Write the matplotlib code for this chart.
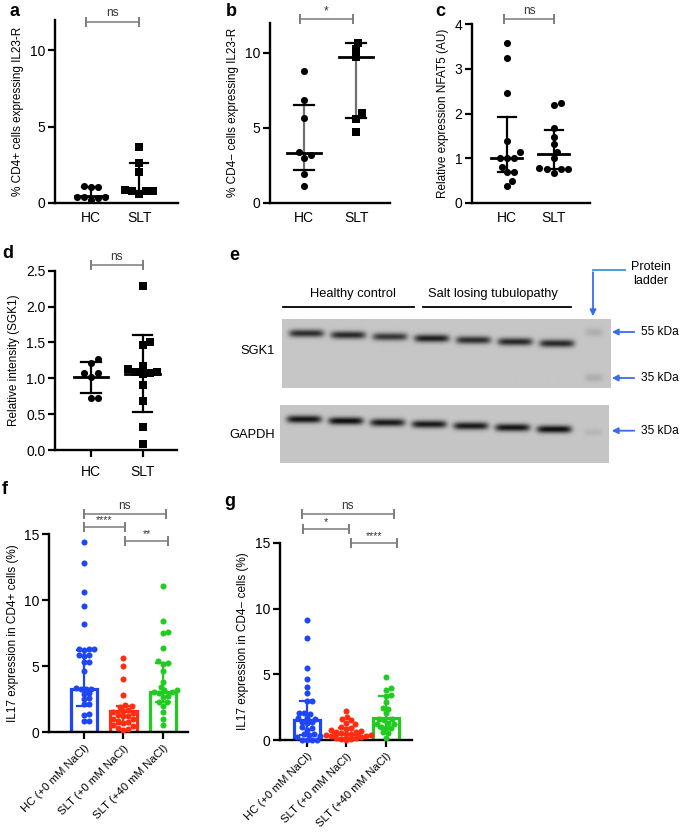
import numpy as np
import matplotlib.pyplot as plt

plt.rcParams['font.family'] = ['Liberation Sans', 'DejaVu Sans']

# ----------------------
# Data
# ----------------------
pair_labels = ['HC', 'SLT']
salt_labels = ['HC (+0 mM NaCl)', 'SLT (+0 mM NaCl)', 'SLT (+40 mM NaCl)']

# a: % CD4+ cells expressing IL23-R
a_hc = [1.1, 1.07, 1.05, 0.4, 0.38, 0.37, 0.35, 0.18]
a_slt = [3.7, 2.6, 2.0, 0.82, 0.8, 0.8, 0.78, 0.62]
a_med, a_lo, a_hi = [0.48, 0.8], [0.37, 0.78], [1.05, 2.6]

# b: % CD4- cells expressing IL23-R
b_hc = [8.78, 6.84, 5.69, 3.4, 3.18, 3.02, 1.96, 1.13]
b_slt = [10.67, 10.22, 9.69, 5.96, 5.62, 4.73]
b_med, b_lo, b_hi = [3.33, 9.69], [2.22, 5.64], [6.53, 10.67]

# c: relative expression NFAT5
c_hc = [3.57, 3.24, 2.47, 1.39, 1.13, 1.0, 1.0, 1.0, 0.81, 0.68, 0.68, 0.49, 0.38]
c_slt = [2.24, 2.18, 1.67, 1.47, 1.31, 1.14, 1.0, 0.77, 0.76, 0.75, 0.75, 0.67]
c_med, c_lo, c_hi = [1.0, 1.09], [0.68, 0.76], [1.93, 1.62]

# d: relative intensity SGK1
d_hc = [1.27, 1.21, 1.08, 1.07, 1.02, 0.72, 0.72]
d_slt = [2.29, 1.5, 1.46, 1.17, 1.13, 1.09, 1.09, 1.08, 1.06, 0.91, 0.69, 0.32, 0.08]
d_med, d_lo, d_hi = [1.02, 1.06], [0.8, 0.53], [1.23, 1.6]

# e: western blot band darkness per lane (3 HC + 4 SLT)
sgk1_band = [0.6, 0.62, 0.56, 0.66, 0.6, 0.62, 0.62]
gapdh_band = [0.7, 0.72, 0.68, 0.68, 0.68, 0.7, 0.72]
ladder_band = [0.09, 0.09, 0.06]

# f: IL17 in CD4+ cells
f_hc = [14.45, 12.85, 10.65, 9.55, 8.2, 6.3, 6.3, 6.25, 6.3, 5.85, 5.8, 5.85, 5.3, 5.3,
        4.6, 3.35, 3.3, 3.3, 3.25, 2.95, 2.9, 2.55, 2.5, 2.1, 2.15, 1.35, 1.3, 0.85, 0.85]
f_slt = [5.65, 5.0, 4.0, 2.8, 2.05, 1.95, 1.9, 1.7, 1.6, 1.5, 1.45, 1.3, 1.25, 1.2,
         1.0, 0.95, 0.8, 0.75, 0.7, 0.5, 0.45, 0.3, 0.25, 0.15]
f_slt40 = [11.05, 8.4, 7.55, 7.5, 6.35, 5.35, 5.2, 5.15, 4.6, 3.8, 3.45, 3.2, 3.15, 3.0,
           3.0, 2.95, 2.7, 2.65, 2.3, 2.25, 2.0, 1.5, 1.0, 0.55]
f_med, f_lo, f_hi = [3.3, 1.6, 3.05], [2.0, 0.6, 2.3], [6.25, 2.0, 5.25]

# g: IL17 in CD4- cells
g_hc = [9.15, 7.75, 5.45, 4.65, 4.05, 3.55, 3.0, 2.95, 2.1, 2.05, 2.0, 1.7, 1.65, 1.6,
        1.4, 1.35, 1.3, 1.0, 0.95, 0.8, 0.5, 0.45, 0.4, 0.3, 0.25, 0.05, 0.05, 0.05, 0.05]
g_slt = [2.2, 1.8, 1.6, 1.5, 1.3, 1.2, 1.0, 0.9, 0.85, 0.8, 0.7, 0.65, 0.6, 0.55, 0.5,
         0.45, 0.4, 0.4, 0.35, 0.3, 0.25, 0.2, 0.15, 0.1, 0.1, 0.05]
g_slt40 = [4.8, 3.95, 3.8, 3.4, 3.35, 2.9, 2.45, 2.4, 2.05, 1.6, 1.6, 1.55, 1.3, 1.25,
           1.2, 1.0, 0.95, 0.9, 0.6, 0.55, 0.2]
g_med, g_lo, g_hi = [1.5, 0.5, 1.65], [0.4, 0.2, 0.9], [2.95, 0.9, 3.35]

group_colors = ['#1e46f5', '#ff2e12', '#1fcc1f']

# ----------------------
# Figure helpers (layout in pixels)
# ----------------------
W, H = 681, 832
fig = plt.figure(figsize=(W / 100, H / 100), dpi=100)


def px_axes(l, t, r, b):
    return fig.add_axes([l / W, 1 - b / H, (r - l) / W, (b - t) / H])


def style(ax, xlim, ylim, yticks, ylabel, xlabels, show_xticks=False, rot=0):
    ax.set_xlim(*xlim)
    ax.set_ylim(*ylim)
    for s in ['top', 'right']:
        ax.spines[s].set_visible(False)
    for s in ['left', 'bottom']:
        ax.spines[s].set_linewidth(1.7)
    ax.set_yticks(yticks)
    ax.set_xticks(range(len(xlabels)))
    if rot:
        ax.set_xticklabels(xlabels, rotation=rot, ha='right', rotation_mode='anchor', fontsize=8.2)
        ax.tick_params(axis='x', length=5, width=1.6, pad=3)
    else:
        ax.set_xticklabels(xlabels, fontsize=10)
        ax.tick_params(axis='x', length=5 if show_xticks else 0, width=1.6, pad=6)
    ax.tick_params(axis='y', labelsize=10, length=5, width=1.6, pad=2)
    ax.set_ylabel(ylabel, fontsize=8.5, labelpad=4)


def swarm_x(ax, x0, vals, diam):
    vals = np.asarray(vals, dtype=float)
    pts = ax.transData.transform(np.column_stack([np.full(len(vals), x0), vals]))
    cands = sorted([k * diam * 0.25 for k in range(-80, 81)], key=lambda v: (abs(v), -v))
    placed = []
    out = np.zeros(len(vals))
    for i in np.argsort(vals):
        px, py = pts[i]
        for off in cands:
            if all((px + off - qx) ** 2 + (py - qy) ** 2 >= (diam * 0.97) ** 2 for qx, qy in placed):
                break
        placed.append((px + off, py))
        out[i] = px + off
    back = ax.transData.inverted().transform(np.column_stack([out, pts[:, 1]]))
    return back[:, 0]


def sig(ax, x1, x2, y, text, fs=8.5):
    ax.plot([x1, x2], [y, y], color='#7a7a7a', lw=1.1, clip_on=False)
    for x in (x1, x2):
        ax.plot([x, x], [y, y], marker='|', markersize=7, color='#7a7a7a', mew=1.1, clip_on=False)
    ax.annotate(text, xy=((x1 + x2) / 2, y), xytext=(0, 1.5), textcoords='offset points',
                ha='center', va='bottom', fontsize=fs, color='#333333', annotation_clip=False)


def dot_panel(ax, groups, markers, med, lo, hi, vcolor='black'):
    for i, vals in enumerate(groups):
        xs = swarm_x(ax, i, vals, 7.2)
        ax.scatter(xs, vals, marker=markers[i], s=26, c='black', linewidths=0, zorder=3, clip_on=False)
        ax.plot([i, i], [lo[i], hi[i]], color=vcolor, lw=1.6, zorder=2)
        ax.plot([i - 0.19, i + 0.19], [lo[i]] * 2, color='black', lw=1.6, zorder=2)
        ax.plot([i - 0.19, i + 0.19], [hi[i]] * 2, color='black', lw=1.6, zorder=2)
        ax.plot([i - 0.33, i + 0.33], [med[i]] * 2, color='black', lw=2.0, zorder=4)


def bar_panel(ax, groups, med, lo, hi):
    ax.bar(range(len(groups)), med, width=0.66, facecolor='white', edgecolor=group_colors,
           linewidth=2.3, zorder=1)
    for i, vals in enumerate(groups):
        c = group_colors[i]
        ax.plot([i, i], [lo[i], hi[i]], color=c, lw=1.6, zorder=2)
        ax.plot([i - 0.17, i + 0.17], [hi[i]] * 2, color=c, lw=1.6, zorder=2)
        ax.plot([i - 0.17, i + 0.17], [lo[i]] * 2, color=c, lw=1.6, zorder=2)
        xs = swarm_x(ax, i, vals, 5.0)
        ax.scatter(xs, vals, s=19, c=c, linewidths=0, zorder=3, clip_on=False)


# ----------------------
# Panel a
# ----------------------
ax = px_axes(55, 20, 178, 203)
style(ax, (-0.75, 1.81), (0, 12), [0, 5, 10], '% CD4+ cells expressing IL23-R', pair_labels)
dot_panel(ax, [a_hc, a_slt], ['o', 's'], a_med, a_lo, a_hi)
sig(ax, -0.1, 1.0, 11.9, 'ns')

# Panel b
ax = px_axes(270, 22.7, 390, 203)
style(ax, (-0.654, 1.65), (0, 12), [0, 5, 10], '% CD4\u2212 cells expressing IL23-R', pair_labels)
dot_panel(ax, [b_hc, b_slt], ['o', 's'], b_med, b_lo, b_hi, vcolor='#707070')
sig(ax, -0.08, 0.93, 12.24, '*')

# Panel c
ax = px_axes(472, 24.3, 590, 202.7)
style(ax, (-0.745, 1.77), (0, 4), [0, 1, 2, 3, 4], 'Relative expression NFAT5 (AU)', pair_labels)
dot_panel(ax, [c_hc, c_slt], ['o', 'o'], c_med, c_lo, c_hi)
sig(ax, -0.06, 1.0, 4.12, 'ns')

# Panel d
ax = px_axes(55, 270.7, 176.7, 450)
style(ax, (-0.69, 1.66), (0, 2.5), [0, 0.5, 1.0, 1.5, 2.0, 2.5], 'Relative intensity (SGK1)',
      pair_labels, show_xticks=True)
ax.set_yticklabels(['0.0', '0.5', '1.0', '1.5', '2.0', '2.5'])
dot_panel(ax, [d_hc, d_slt], ['o', 's'], d_med, d_lo, d_hi)
sig(ax, 0.0, 1.0, 2.58, 'ns')

# Panel f
ax = px_axes(49.3, 534.3, 188.3, 732)
style(ax, (-0.864, 2.63), (0, 15), [0, 5, 10, 15], 'IL17 expression in CD4+ cells (%)',
      salt_labels, show_xticks=True, rot=45)
bar_panel(ax, [f_hc, f_slt, f_slt40], f_med, f_lo, f_hi)
sig(ax, 0.0, 2.06, 16.54, 'ns')
sig(ax, 0.0, 1.04, 15.53, '****', fs=7.5)
sig(ax, 1.04, 2.13, 14.5, '**', fs=7.5)

# Panel g
ax = px_axes(280, 542.7, 411.7, 740.2)
style(ax, (-0.676, 2.66), (0, 15), [0, 5, 10, 15], 'IL17 expression in CD4\u2212 cells (%)',
      salt_labels, show_xticks=True, rot=45)
bar_panel(ax, [g_hc, g_slt, g_slt40], g_med, g_lo, g_hi)
sig(ax, -0.13, 2.2, 17.18, 'ns')
sig(ax, -0.1, 1.08, 16.01, '*', fs=8)
sig(ax, 1.12, 2.28, 15.0, '****', fs=7.5)

# ----------------------
# Panel e: western blot drawn in pixel coordinates
# ----------------------
ae = fig.add_axes([0, 0, 1, 1], zorder=-1)
ae.set_xlim(0, W)
ae.set_ylim(H, 0)
ae.axis('off')


def blot(x0, x1, y0, y1, lane_x, lane_y, dark, ladder):
    xs = np.arange(x0, x1, 0.5)
    ys = np.arange(y0, y1, 0.5)
    X, Y = np.meshgrid(xs, ys)
    img = np.full(X.shape, 0.775)
    for cx, cy, a in zip(lane_x, lane_y, dark):
        img -= a * np.exp(-((X - cx) / 17.5) ** 6) * np.exp(-((Y - cy) / 3.8) ** 2)
    for cy, a in ladder:
        img -= a * np.exp(-((X - 593) / 9.0) ** 4) * np.exp(-((Y - cy) / 4.0) ** 2)
    ae.imshow(np.clip(img, 0, 1), cmap='gray', vmin=0, vmax=1, extent=(x0, x1, y1, y0),
              interpolation='bilinear', aspect='auto')


lanes_x = np.linspace(306, 556, 7)
blot(281.7, 610, 320, 388.3, lanes_x, np.linspace(334, 344, 7), sgk1_band,
     [(333, ladder_band[0]), (378, ladder_band[1])])
blot(280, 609, 405, 462.7, lanes_x - 2, np.linspace(419, 429, 7), gapdh_band,
     [(432, ladder_band[2])])

ae.text(353, 294, 'Healthy control', ha='center', va='center', fontsize=9.3)
ae.plot([283.3, 414], [307.3, 307.3], color='black', lw=1.3)
ae.text(493, 294, 'Salt losing tubulopathy', ha='center', va='center', fontsize=9.3)
ae.plot([422.7, 571], [307.3, 307.3], color='black', lw=1.3)
ae.text(275, 351, 'SGK1', ha='right', va='center', fontsize=9.3)
ae.text(275, 435, 'GAPDH', ha='right', va='center', fontsize=9.3)

arrow_blue = '#3a6cf0'
for y, lab in [(332, '55 kDa'), (378, '35 kDa'), (430.7, '35 kDa')]:
    ae.annotate('', xy=(609, y), xytext=(637, y),
                arrowprops=dict(arrowstyle='-|>', color=arrow_blue, lw=1.3, mutation_scale=9))
    ae.text(641, y, lab, ha='left', va='center', fontsize=8.6)
ae.plot([593, 625], [270, 270], color='#3d95dd', lw=1.3)
ae.annotate('', xy=(593, 319), xytext=(593, 269.4),
            arrowprops=dict(arrowstyle='-|>', color=arrow_blue, lw=1.3, mutation_scale=9))
ae.text(651, 274, 'Protein\nladder', ha='center', va='center', fontsize=9, linespacing=1.15)

# ----------------------
# Panel letters
# ----------------------
for lab, x, y in [('a', 9, 12), ('b', 226, 12), ('c', 435, 12), ('d', 2, 253),
                  ('e', 229, 255), ('f', 2, 490), ('g', 224, 502)]:
    fig.text(x / W, 1 - y / H, lab, fontsize=13, fontweight='bold', ha='left', va='center')

fig.savefig('out.png', dpi=100)
